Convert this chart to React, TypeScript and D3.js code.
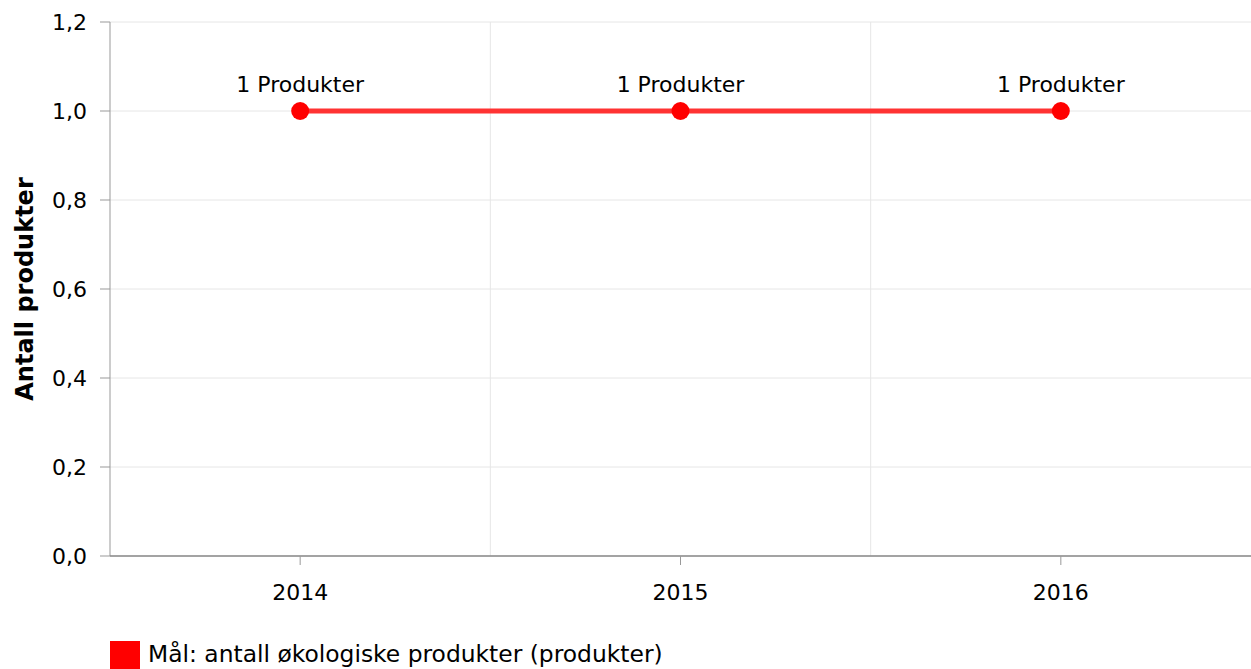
import React from 'react';
import * as d3 from 'd3';

const years = ['2014', '2015', '2016'];
const values = [1, 1, 1];
const pointLabels = ['1 Produkter', '1 Produkter', '1 Produkter'];
const yTicks = [0, 0.2, 0.4, 0.6, 0.8, 1.0, 1.2];
const seriesName = 'Mål: antall økologiske produkter (produkter)';
const yTitle = 'Antall produkter';

const W = 1251;
const H = 669;
const margin = { top: 22, right: 0, bottom: 113, left: 110 };
const font = "Verdana, 'DejaVu Sans', sans-serif";

export default function App() {
    const plotW = W - margin.left - margin.right;
    const plotH = H - margin.top - margin.bottom;

    const x = d3.scaleBand().domain(years).range([0, plotW]).padding(0);
    const y = d3.scaleLinear().domain([0, 1.2]).range([plotH, 0]);

    const line = d3
        .line<number>()
        .x((d, i) => (x(years[i]) ?? 0) + x.bandwidth() / 2)
        .y(d => y(d));

    const fmt = (v: number) => v.toFixed(1).replace('.', ',');

    return (
        <div>
            <style>{`body{margin:0}`}</style>
            <svg width={W} height={H} style={{ display: 'block', fontFamily: font }}>
                <g transform={`translate(${margin.left},${margin.top})`}>
                    {/* horizontal grid */}
                    {yTicks.map(t => (
                        <line key={'g' + t} x1={0} x2={plotW} y1={y(t)} y2={y(t)} stroke="#e6e6e6" strokeWidth={1} />
                    ))}
                    {/* vertical grid between categories */}
                    {years.slice(1).map(yr => (
                        <line key={'v' + yr} x1={x(yr)} x2={x(yr)} y1={0} y2={plotH} stroke="#e6e6e6" strokeWidth={1} />
                    ))}
                    {/* y axis */}
                    <line x1={0} x2={0} y1={0} y2={plotH} stroke="#999" strokeWidth={1} />
                    {yTicks.map(t => (
                        <g key={'t' + t} transform={`translate(0,${y(t)})`}>
                            <line x1={-10} x2={0} stroke="#999" />
                            <text x={-23} dy="0.35em" textAnchor="end" fontSize={22} fill="#000">
                                {fmt(t)}
                            </text>
                        </g>
                    ))}
                    {/* x axis */}
                    <line x1={0} x2={plotW} y1={plotH} y2={plotH} stroke="#888" strokeWidth={1.5} />
                    {years.map(yr => {
                        const cx = (x(yr) ?? 0) + x.bandwidth() / 2;
                        return (
                            <g key={'x' + yr} transform={`translate(${cx},${plotH})`}>
                                <line y1={0} y2={9} stroke="#999" />
                                <text y={44} textAnchor="middle" fontSize={22} fill="#000">
                                    {yr}
                                </text>
                            </g>
                        );
                    })}
                    {/* series */}
                    <path d={line(values) ?? ''} fill="none" stroke="#ff3333" strokeWidth={5} />
                    {values.map((v, i) => {
                        const cx = (x(years[i]) ?? 0) + x.bandwidth() / 2;
                        return (
                            <g key={'p' + i}>
                                <circle cx={cx} cy={y(v)} r={9} fill="#ff0000" />
                                <text x={cx} y={y(v) - 19} textAnchor="middle" fontSize={22} fill="#000">
                                    {pointLabels[i]}
                                </text>
                            </g>
                        );
                    })}
                </g>
                {/* y title */}
                <text
                    transform={`translate(33,${margin.top + plotH / 2}) rotate(-90)`}
                    textAnchor="middle"
                    fontSize={24}
                    fontWeight="bold"
                    fill="#000"
                >
                    {yTitle}
                </text>
                {/* legend */}
                <rect x={110} y={641} width={30} height={30} fill="#ff0000" />
                <text x={148} y={662} fontSize={23.4} fill="#000">
                    {seriesName}
                </text>
            </svg>
        </div>
    );
}
